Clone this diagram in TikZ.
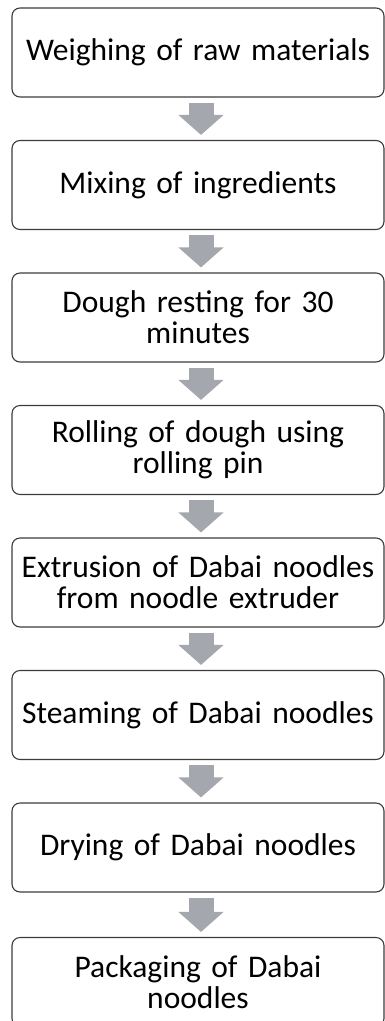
\documentclass[tikz,border=0pt]{standalone}
\usepackage{fontspec}
\setmainfont{Carlito}
\usepackage{tikz}
\usetikzlibrary{arrows.meta}
\definecolor{boxline}{HTML}{3c3c3c}
\definecolor{flowgray}{HTML}{a4a7ad}

\begin{document}
\begin{tikzpicture}[x=1pt,y=-1pt,
  font=\fontsize{31.5}{31}\selectfont,
  stepbox/.style={draw=boxline,line width=1.1pt,fill=white,rounded corners=8pt,minimum width=372pt,minimum height=89pt,text width=368pt,align=center,inner sep=0pt},
  flow/.style={line width=25pt,color=flowgray,-{Triangle[length=20pt,width=44pt]}}]
  \useasboundingbox (0,0) rectangle (384,1021);
  \node[stepbox] (weigh) at (198,52.5) {Weighing of raw materials};
  \node[stepbox] (mix) at (198,185) {Mixing of ingredients};
  \node[stepbox] (rest) at (198,317.5) {Dough resting for 30\\minutes};
  \node[stepbox] (roll) at (198,450) {Rolling of dough using\\rolling pin};
  \node[stepbox] (extrude) at (198,582.5) {Extrusion of Dabai noodles\\from noodle extruder};
  \node[stepbox] (steam) at (198,715) {Steaming of Dabai noodles};
  \node[stepbox] (dry) at (198,847.5) {Drying of Dabai noodles};
  \node[stepbox] (pack) at (198,982) {Packaging of Dabai\\noodles};
  \foreach \a/\b in {weigh/mix,mix/rest,rest/roll,roll/extrude,extrude/steam,steam/dry,dry/pack}
    \draw[flow] ([xshift=3pt,yshift=-5pt]\a.south) -- ([xshift=3pt,yshift=5pt]\b.north);
\end{tikzpicture}
\end{document}
